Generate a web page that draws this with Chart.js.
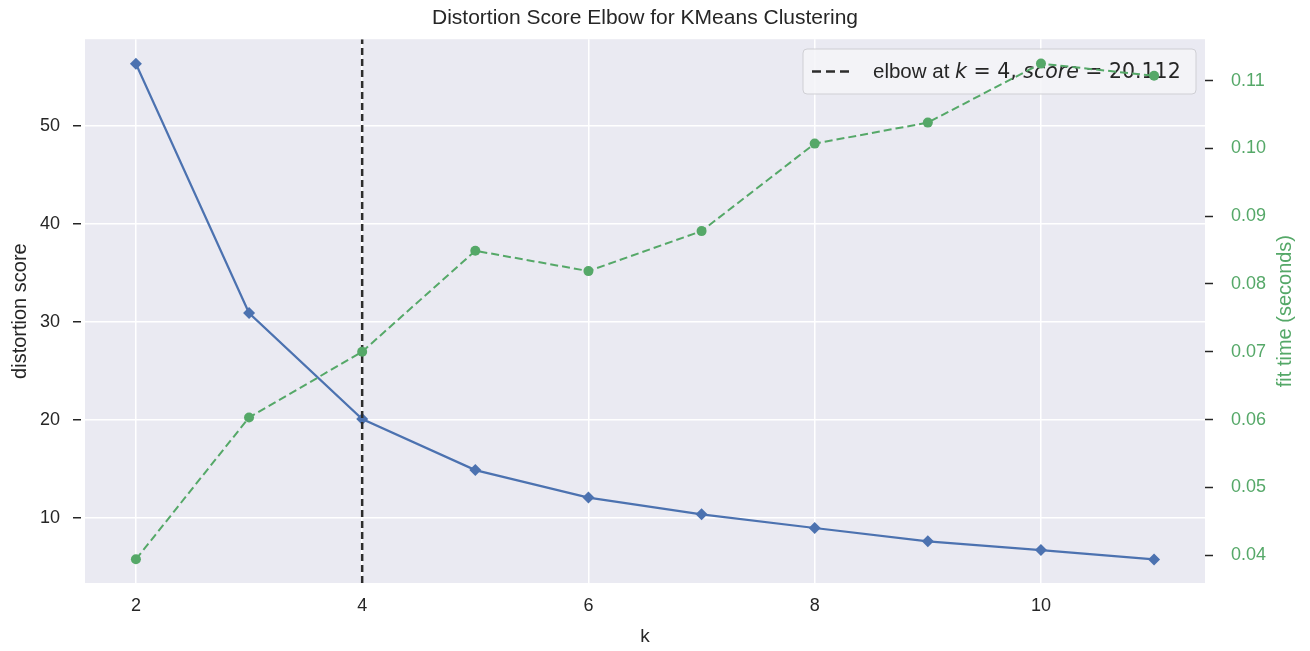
<!DOCTYPE html>
<html>
<head>
<meta charset="utf-8">
<script src="https://cdn.jsdelivr.net/npm/chart.js@4.4.1/dist/chart.umd.min.js"></script>
<style>
  html,body{margin:0;padding:0;background:#fff;}
  #wrap{width:1310px;height:651px;}
</style>
</head>
<body>
<div id="wrap"><canvas id="elbow"></canvas></div>
<script>
/* ---------- DATA ---------- */
const kValues      = [2,3,4,5,6,7,8,9,10,11];
const distortion   = [56.3,30.9,20.112,14.9,12.1,10.4,9.0,7.65,6.75,5.8];
const fitTimes     = [0.0394,0.0603,0.0700,0.0849,0.0819,0.0878,0.1007,0.1038,0.1125,0.1107];
const xTicks       = [2,4,6,8,10];
const yTicks       = [10,20,30,40,50];
const y2Ticks      = [0.04,0.05,0.06,0.07,0.08,0.09,0.10,0.11];
const elbowK       = 4;
const elbowScore   = 20.112;

/* ---------- STYLE ---------- */
const BLUE='#4C72B0', GREEN='#55A868', DARK='#262626', BG='#EAEAF2';
const FONT='"Liberation Sans", Arial, sans-serif';
const MATH='"DejaVu Sans", sans-serif';
const X_MIN=1.55, X_MAX=11.45, Y_MIN=3.4, Y_MAX=58.8, Y2_MIN=0.0359, Y2_MAX=0.1161;

const setTicks = list => scale => { scale.ticks = list.map(v=>({value:v})); };

/* ---------- PLUGINS ---------- */
const bgPlugin = {
  id:'bg',
  beforeDraw(chart){
    const {ctx,chartArea:a}=chart;
    ctx.save(); ctx.fillStyle=BG; ctx.fillRect(a.left,a.top,a.right-a.left,a.bottom-a.top); ctx.restore();
  }
};

// legend sits under the fit-time line, like the twin axes in the original
const legendPlugin = {
  id:'elbowLegend',
  beforeDatasetDraw(chart,args){
    if(args.index!==0) return;
    const ctx=chart.ctx;
    const x=803, y=49, w=393, h=45;
    ctx.save();
    ctx.beginPath(); ctx.roundRect(x,y,w,h,4);
    ctx.fillStyle='rgba(245,245,248,0.85)'; ctx.fill();
    ctx.strokeStyle='#cfcfd4'; ctx.lineWidth=1; ctx.stroke();
    const cy=y+h/2;
    ctx.setLineDash([9,5]); ctx.strokeStyle='#2d2d2d'; ctx.lineWidth=2.5;
    ctx.beginPath(); ctx.moveTo(812,cy); ctx.lineTo(852,cy); ctx.stroke();
    ctx.setLineDash([]);
    // text + mathtext-like parts (italic k / score)
    const parts=[
      ['elbow at ',FONT,''],['k',MATH,'italic '],[' = '+elbowK+', ',MATH,''],
      ['score',MATH,'italic '],[' = '+elbowScore.toFixed(3),MATH,'']
    ];
    ctx.fillStyle=DARK; ctx.textBaseline='middle';
    let tx=873;
    parts.forEach(([t,fam,st])=>{
      ctx.font=st+'20.5px '+fam;
      ctx.fillText(t,tx,cy+1);
      tx+=ctx.measureText(t).width;
    });
    ctx.restore();
  }
};

const rightTitlePlugin = {
  id:'rightTitle',
  afterDraw(chart){
    const {ctx,chartArea:a}=chart;
    ctx.save();
    ctx.translate(1285,(a.top+a.bottom)/2);
    ctx.rotate(-Math.PI/2);
    ctx.font='20px '+FONT; ctx.fillStyle=GREEN;
    ctx.textAlign='center'; ctx.textBaseline='middle';
    ctx.fillText('fit time (seconds)',0,0);
    ctx.restore();
  }
};

/* ---------- CHART ---------- */
new Chart(document.getElementById('elbow').getContext('2d'),{
  type:'line',
  data:{
    datasets:[
      {
        label:'fit time', yAxisID:'y2', order:1,
        data:kValues.map((k,i)=>({x:k,y:fitTimes[i]})),
        borderColor:GREEN, backgroundColor:GREEN, borderWidth:2, borderDash:[8,4],
        pointStyle:'circle', pointRadius:5, pointBorderWidth:0
      },
      {
        label:'elbow', yAxisID:'y', order:2,
        data:[{x:elbowK,y:Y_MIN},{x:elbowK,y:Y_MAX}],
        borderColor:'#2d2d2d', borderWidth:2.5, borderDash:[7,4], pointRadius:0
      },
      {
        label:'distortion score', yAxisID:'y', order:3,
        data:kValues.map((k,i)=>({x:k,y:distortion[i]})),
        borderColor:BLUE, backgroundColor:BLUE, borderWidth:2.2,
        pointStyle:'rectRot', pointRadius:6, pointBorderWidth:0
      }
    ]
  },
  options:{
    responsive:true, maintainAspectRatio:false, animation:false,
    layout:{padding:0},
    plugins:{
      legend:{display:false}, tooltip:{enabled:false},
      title:{display:true,fullSize:false,text:'Distortion Score Elbow for KMeans Clustering',
             color:DARK,font:{family:FONT,size:21,weight:'normal'},padding:{top:6,bottom:8}}
    },
    scales:{
      x:{
        type:'linear', min:X_MIN, max:X_MAX, afterBuildTicks:setTicks(xTicks),
        afterFit:s=>{s.height=68;},
        grid:{color:'#fff',lineWidth:1.5,drawTicks:false}, border:{display:false},
        ticks:{color:DARK,font:{family:FONT,size:18},padding:12},
        title:{display:true,text:'k',color:DARK,font:{family:FONT,size:19},padding:{top:0,bottom:3}}
      },
      y:{
        position:'left', min:Y_MIN, max:Y_MAX, afterBuildTicks:setTicks(yTicks),
        afterFit:s=>{s.width=85;},
        grid:{color:'#fff',lineWidth:1.5,tickColor:DARK,tickLength:12,tickWidth:1.5,
              tickBorderDash:[8,4],tickBorderDashOffset:0},
        border:{display:false},
        ticks:{color:DARK,font:{family:FONT,size:18},padding:13},
        title:{display:true,text:'distortion score',color:DARK,font:{family:FONT,size:20},padding:{top:8,bottom:0}}
      },
      y2:{
        position:'right', min:Y2_MIN, max:Y2_MAX, afterBuildTicks:setTicks(y2Ticks),
        afterFit:s=>{s.width=105;},
        grid:{drawOnChartArea:false,color:DARK,tickColor:DARK,tickLength:12,tickWidth:1.5,
              tickBorderDash:[8,4],tickBorderDashOffset:0},
        border:{display:false},
        ticks:{color:GREEN,font:{family:FONT,size:18},padding:14,callback:v=>v.toFixed(2)}
      }
    }
  },
  plugins:[bgPlugin,legendPlugin,rightTitlePlugin]
});
</script>
</body>
</html>
